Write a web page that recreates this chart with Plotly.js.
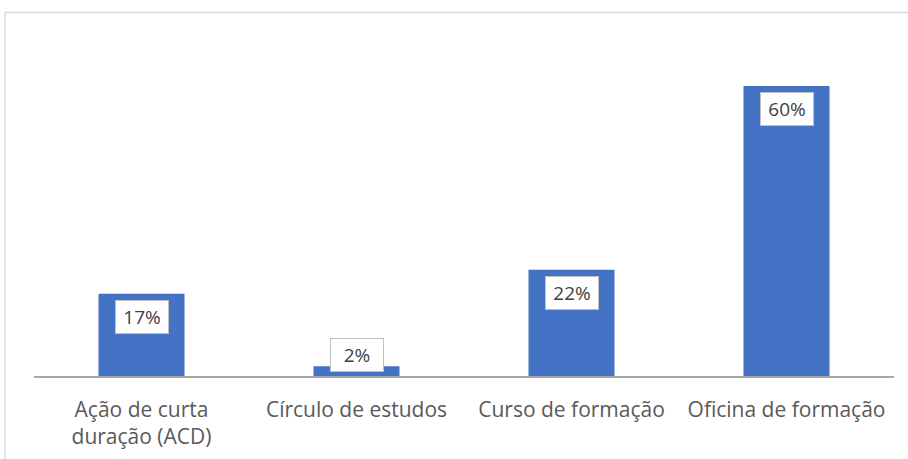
<!DOCTYPE html>
<html>
<head>
<meta charset="utf-8">
<script src="https://cdn.plot.ly/plotly-3.0.1.min.js"></script>
<style>html,body{margin:0;padding:0;background:#fff;}#chart{width:908px;height:459px;}</style>
</head>
<body>
<div id="chart"></div>
<script>
const categories = ["Ação de curta<br>duração (ACD)", "Círculo de estudos", "Curso de formação", "Oficina de formação"];
const values = [17, 2, 22, 60];
const labels = ["17%", "2%", "22%", "60%"];

const barColor = "#4472C4";
const yMax = 69.5;
const smallLimit = 8;

const annotations = categories.map((c, i) => {
  const small = values[i] < smallLimit;
  return {
    x: c, y: small ? 0 : values[i], xref: "x", yref: "y",
    text: labels[i], showarrow: false,
    yanchor: small ? "bottom" : "top",
    yshift: small ? 4 : -6,
    bgcolor: "#ffffff", bordercolor: "#bfbfbf", borderwidth: 1, borderpad: 5,
    width: 42, height: 22,
    font: {family: "Open Sans, sans-serif", size: 19, color: "#404040"}
  };
});

const data = [{
  type: "bar", x: categories, y: values,
  marker: {color: barColor},
  hoverinfo: "none"
}];

const layout = {
  width: 908, height: 459,
  margin: {l: 34, r: 14, t: 40, b: 83},
  paper_bgcolor: "#ffffff", plot_bgcolor: "#ffffff",
  bargap: 0.6,
  showlegend: false,
  xaxis: {
    showline: true, linecolor: "#a6a6a6", linewidth: 1.5,
    ticks: "", showgrid: false, zeroline: false,
    ticklabelstandoff: 14,
    tickfont: {family: "Open Sans, sans-serif", size: 21, color: "#595959"},
    fixedrange: true
  },
  yaxis: {
    range: [0, yMax], visible: false, showgrid: false, zeroline: false, fixedrange: true
  },
  annotations: annotations,
  shapes: [{
    type: "rect", xref: "paper", yref: "paper",
    x0: -0.0337, x1: 1.1, y0: -0.5, y1: 1.0818,
    line: {color: "#d9d9d9", width: 1.5}, fillcolor: "rgba(0,0,0,0)", layer: "below"
  }]
};

Plotly.newPlot("chart", data, layout, {displayModeBar: false, staticPlot: true});
</script>
</body>
</html>
